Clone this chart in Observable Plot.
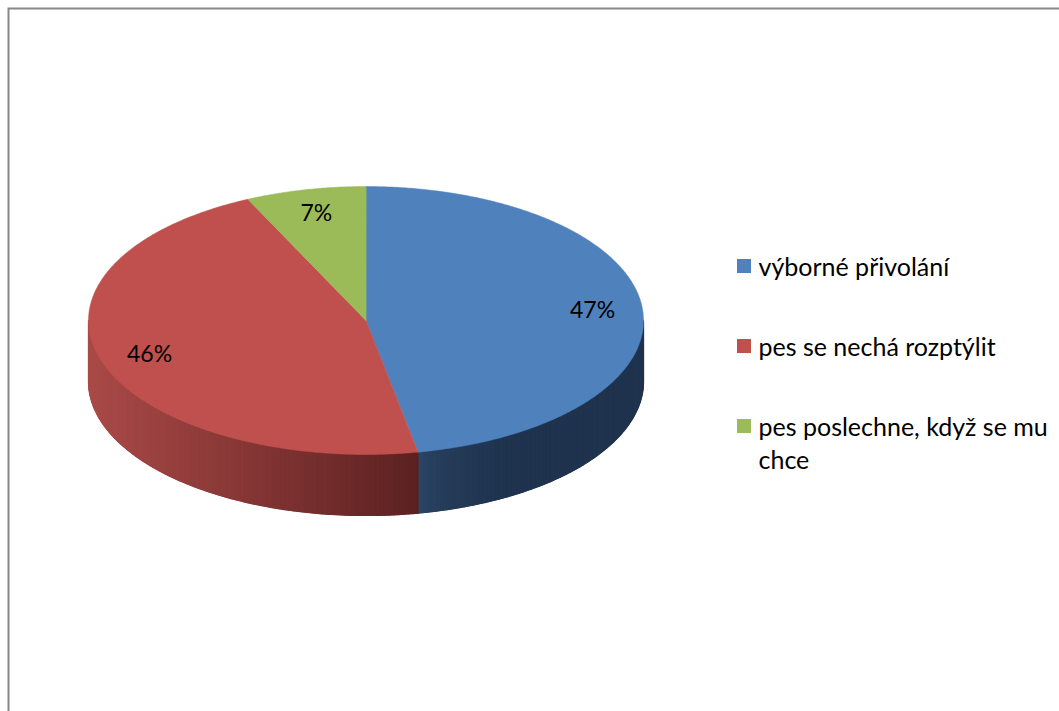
<!DOCTYPE html>
<html>
<head>
<meta charset="utf-8">
<script src="https://cdn.jsdelivr.net/npm/d3@7"></script>
<script src="https://cdn.jsdelivr.net/npm/@observablehq/plot@0.6"></script>
<style>
  html, body { margin: 0; padding: 0; background: #fff; overflow: hidden; }
</style>
</head>
<body>
<div id="chart"></div>
<script>
// ---- data ----
const categories = ["výborné přivolání", "pes se nechá rozptýlit", "pes poslechne, když se mu chce"];
const values = [47, 46, 7];
const valueLabels = ["47%", "46%", "7%"];

// ---- styles / layout ----
const topColors = ["#4F81BD", "#C0504D", "#9BBB59"];
const sideLight = ["#2d4869", "#aa4a48", "#6f8a3c"];
const sideDark = ["#1f334e", "#5c2121", "#3f5222"];
const W = 1059, H = 711;
const pie = {cx: 365.5, cy: 320, rx: 277.5, ry: 134, depth: 61, labelR: 0.82};
const legend = {x: 737, y0: 266, step: 80, box: 14, gap: 21, maxWidth: 292, lineStep: 33};
const FONT = "Lato";
const FS_LEG = 25, FS_PCT = 23;

// ---- geometry from values ----
const total = d3.sum(values);
const slices = [];
let acc = 0;
values.forEach((v, i) => {
  const a0 = acc / total * 2 * Math.PI;
  acc += v;
  const a1 = acc / total * 2 * Math.PI;
  slices.push({i, a0, a1});
});
const pt = (a, dy = 0) => [pie.cx + pie.rx * Math.sin(a), pie.cy - pie.ry * Math.cos(a) + dy];

const topPts = [];
slices.forEach(s => {
  const id = "top" + s.i;
  topPts.push({id, x: pie.cx, y: pie.cy, fill: topColors[s.i]});
  const n = Math.max(2, Math.ceil((s.a1 - s.a0) / (Math.PI / 360)));
  for (let k = 0; k <= n; k++) {
    const [x, y] = pt(s.a0 + (s.a1 - s.a0) * k / n);
    topPts.push({id, x, y, fill: topColors[s.i]});
  }
});

const sideBase = [];
const sidePts = [];
slices.forEach(s => {
  const s0 = Math.max(s.a0, Math.PI / 2), s1 = Math.min(s.a1, 3 * Math.PI / 2);
  if (s1 <= s0) return;
  const xs = [pt(s0)[0], pt(s1)[0]];
  const xmin = Math.min(...xs), xmax = Math.max(...xs);
  const n = Math.ceil((s1 - s0) / (Math.PI / 180));
  const interp = d3.interpolateRgb(sideLight[s.i], sideDark[s.i]);
  const shade = t => interp(s.i === 0 ? Math.min(1, Math.pow(t, 0.5) * 1.6) : t);
  const baseId = "base" + s.i;
  const baseFill = shade(0.6);
  for (let k = 0; k <= n; k++) {
    const [x, y] = pt(s0 + (s1 - s0) * k / n);
    sideBase.push({id: baseId, x, y, fill: baseFill});
  }
  for (let k = n; k >= 0; k--) {
    const [x, y] = pt(s0 + (s1 - s0) * k / n, pie.depth);
    sideBase.push({id: baseId, x, y, fill: baseFill});
  }
  for (let k = 0; k < n; k++) {
    const b0 = s0 + (s1 - s0) * k / n, b1 = s0 + (s1 - s0) * (k + 1) / n;
    const xm = (pt(b0)[0] + pt(b1)[0]) / 2;
    const fill = shade((xm - xmin) / (xmax - xmin));
    const id = `side${s.i}-${k}`;
    for (const [x, y] of [pt(b0), pt(b1), pt(b1, pie.depth), pt(b0, pie.depth)]) {
      sidePts.push({id, x, y, fill});
    }
  }
});

const pctData = slices.map(s => {
  const m = (s.a0 + s.a1) / 2;
  return {
    x: pie.cx + pie.rx * pie.labelR * Math.sin(m),
    y: pie.cy - pie.ry * pie.labelR * Math.cos(m),
    text: valueLabels[s.i]
  };
});

// wrap legend labels by measuring real text width
const ctx = document.createElement("canvas").getContext("2d");
ctx.font = `${FS_LEG}px ${FONT}`;
function wrap(str) {
  const words = str.split(" ");
  const lines = [];
  let cur = "";
  for (const w of words) {
    const trial = cur ? cur + " " + w : w;
    if (cur && ctx.measureText(trial).width > legend.maxWidth) { lines.push(cur); cur = w; }
    else cur = trial;
  }
  if (cur) lines.push(cur);
  return lines;
}

const legendBoxes = categories.map((c, i) => {
  const yc = legend.y0 + i * legend.step;
  return {color: topColors[i], x1: legend.x, x2: legend.x + legend.box, y1: yc - legend.box / 2, y2: yc + legend.box / 2};
});
const legendLines = categories.flatMap((c, i) => {
  const yc = legend.y0 + i * legend.step;
  return wrap(c).map((line, j) => ({text: line, x: legend.x + legend.gap, y: yc + 1 + j * legend.lineStep}));
});

const chart = Plot.plot({
  width: W, height: H, margin: 0,
  x: {domain: [0, W], range: [0, W], axis: null},
  y: {domain: [0, H], range: [0, H], axis: null},
  color: {type: "identity"},
  style: {fontFamily: FONT, background: "#fff"},
  marks: [
    Plot.frame({stroke: "#878787", strokeWidth: 2, insetLeft: 8, insetTop: 8, insetRight: -20, insetBottom: -20}),
    Plot.line(sideBase, {x: "x", y: "y", z: "id", fill: "fill", stroke: "fill", strokeWidth: 0.5, curve: "linear-closed"}),
    Plot.line(sidePts, {x: "x", y: "y", z: "id", fill: "fill", stroke: "fill", strokeWidth: 1.2, strokeLinejoin: "miter", curve: "linear-closed"}),
    Plot.line(topPts, {x: "x", y: "y", z: "id", fill: "fill", stroke: "fill", strokeWidth: 0.5, curve: "linear-closed"}),
    Plot.text(pctData, {x: "x", y: "y", text: "text", fontSize: FS_PCT, fontFamily: FONT, fill: "#000"}),
    Plot.rect(legendBoxes, {x1: "x1", x2: "x2", y1: "y1", y2: "y2", fill: "color"}),
    Plot.text(legendLines, {x: "x", y: "y", text: "text", textAnchor: "start", fontSize: FS_LEG, fontFamily: FONT, fill: "#000"})
  ]
});
document.getElementById("chart").appendChild(chart);
</script>
</body>
</html>
